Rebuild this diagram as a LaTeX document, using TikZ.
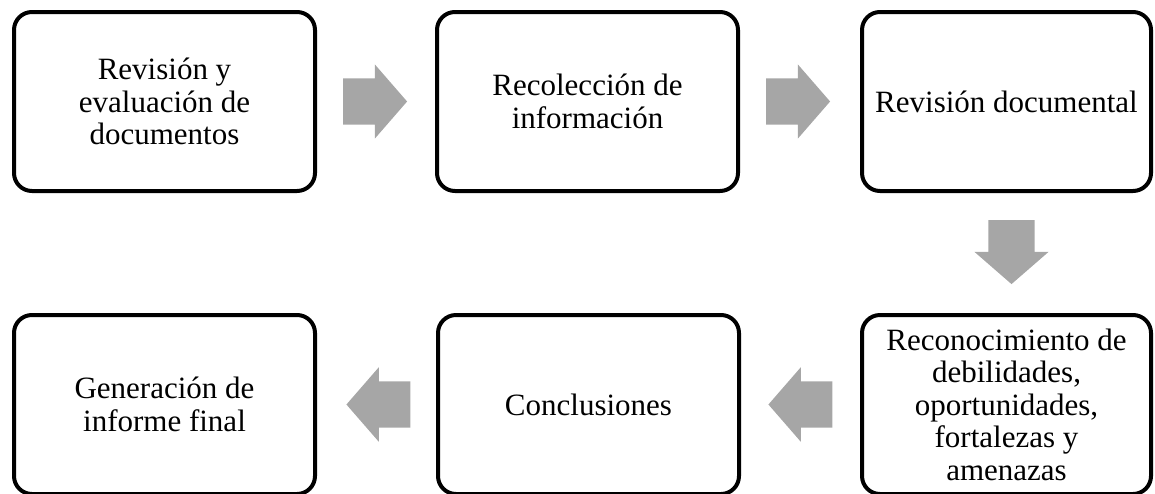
\documentclass[tikz,border=0pt]{standalone}
\usepackage{fontspec}
\setmainfont{Liberation Serif}
\usetikzlibrary{shapes.arrows,calc}
\definecolor{gris}{HTML}{A6A6A6}

\begin{document}
\begin{tikzpicture}[x=1pt,y=-1pt,
 caja/.style={draw,line width=4pt,rounded corners=18pt,minimum width=301pt,minimum height=179pt,
  align=center,inner sep=0pt,font=\fontsize{31}{32.5}\selectfont},
 flecha/.style={single arrow,fill=gris,draw=none,minimum height=64pt,inner xsep=0pt,inner ysep=23pt,
  single arrow head extend=14pt,single arrow tip angle=98}]
 \useasboundingbox (0,0) rectangle (1155,493);
 \path
 (164.5,101.5) node[caja] (A) {Revisión y\\evaluación de\\documentos} % fila 1
 ++(0:423) node[caja] (B) {Recolección de\\información}
 ++(0:419) node[caja,minimum width=289pt] (C) {Revisión documental}
 ++(90:303) node[caja,minimum width=289pt] (D) {Reconocimiento de\\debilidades,\\oportunidades,\\fortalezas y\\amenazas} % fila 2
 ++(180:418) node[caja] (E) {Conclusiones}
 ++(180:424) node[caja] (F) {Generación de\\informe final};
 \node[flecha,xshift=-11pt] (AB) at ($(A.east)!.5!(B.west)$) {};
 \node[flecha,xshift=-12pt] (BC) at ($(B.east)!.5!(C.west)$) {};
 \node[flecha,rotate=-90,xshift=-11pt] (CD) at ($(C.south)!.5!(D.north)+(5,0)$) {};
 \node[flecha,shape border rotate=180,xshift=10pt] (DE) at ($(D.west)!.5!(E.east)$) {};
 \node[flecha,shape border rotate=180,xshift=12pt] (EF) at ($(E.west)!.5!(F.east)$) {};
\end{tikzpicture}
\end{document}
